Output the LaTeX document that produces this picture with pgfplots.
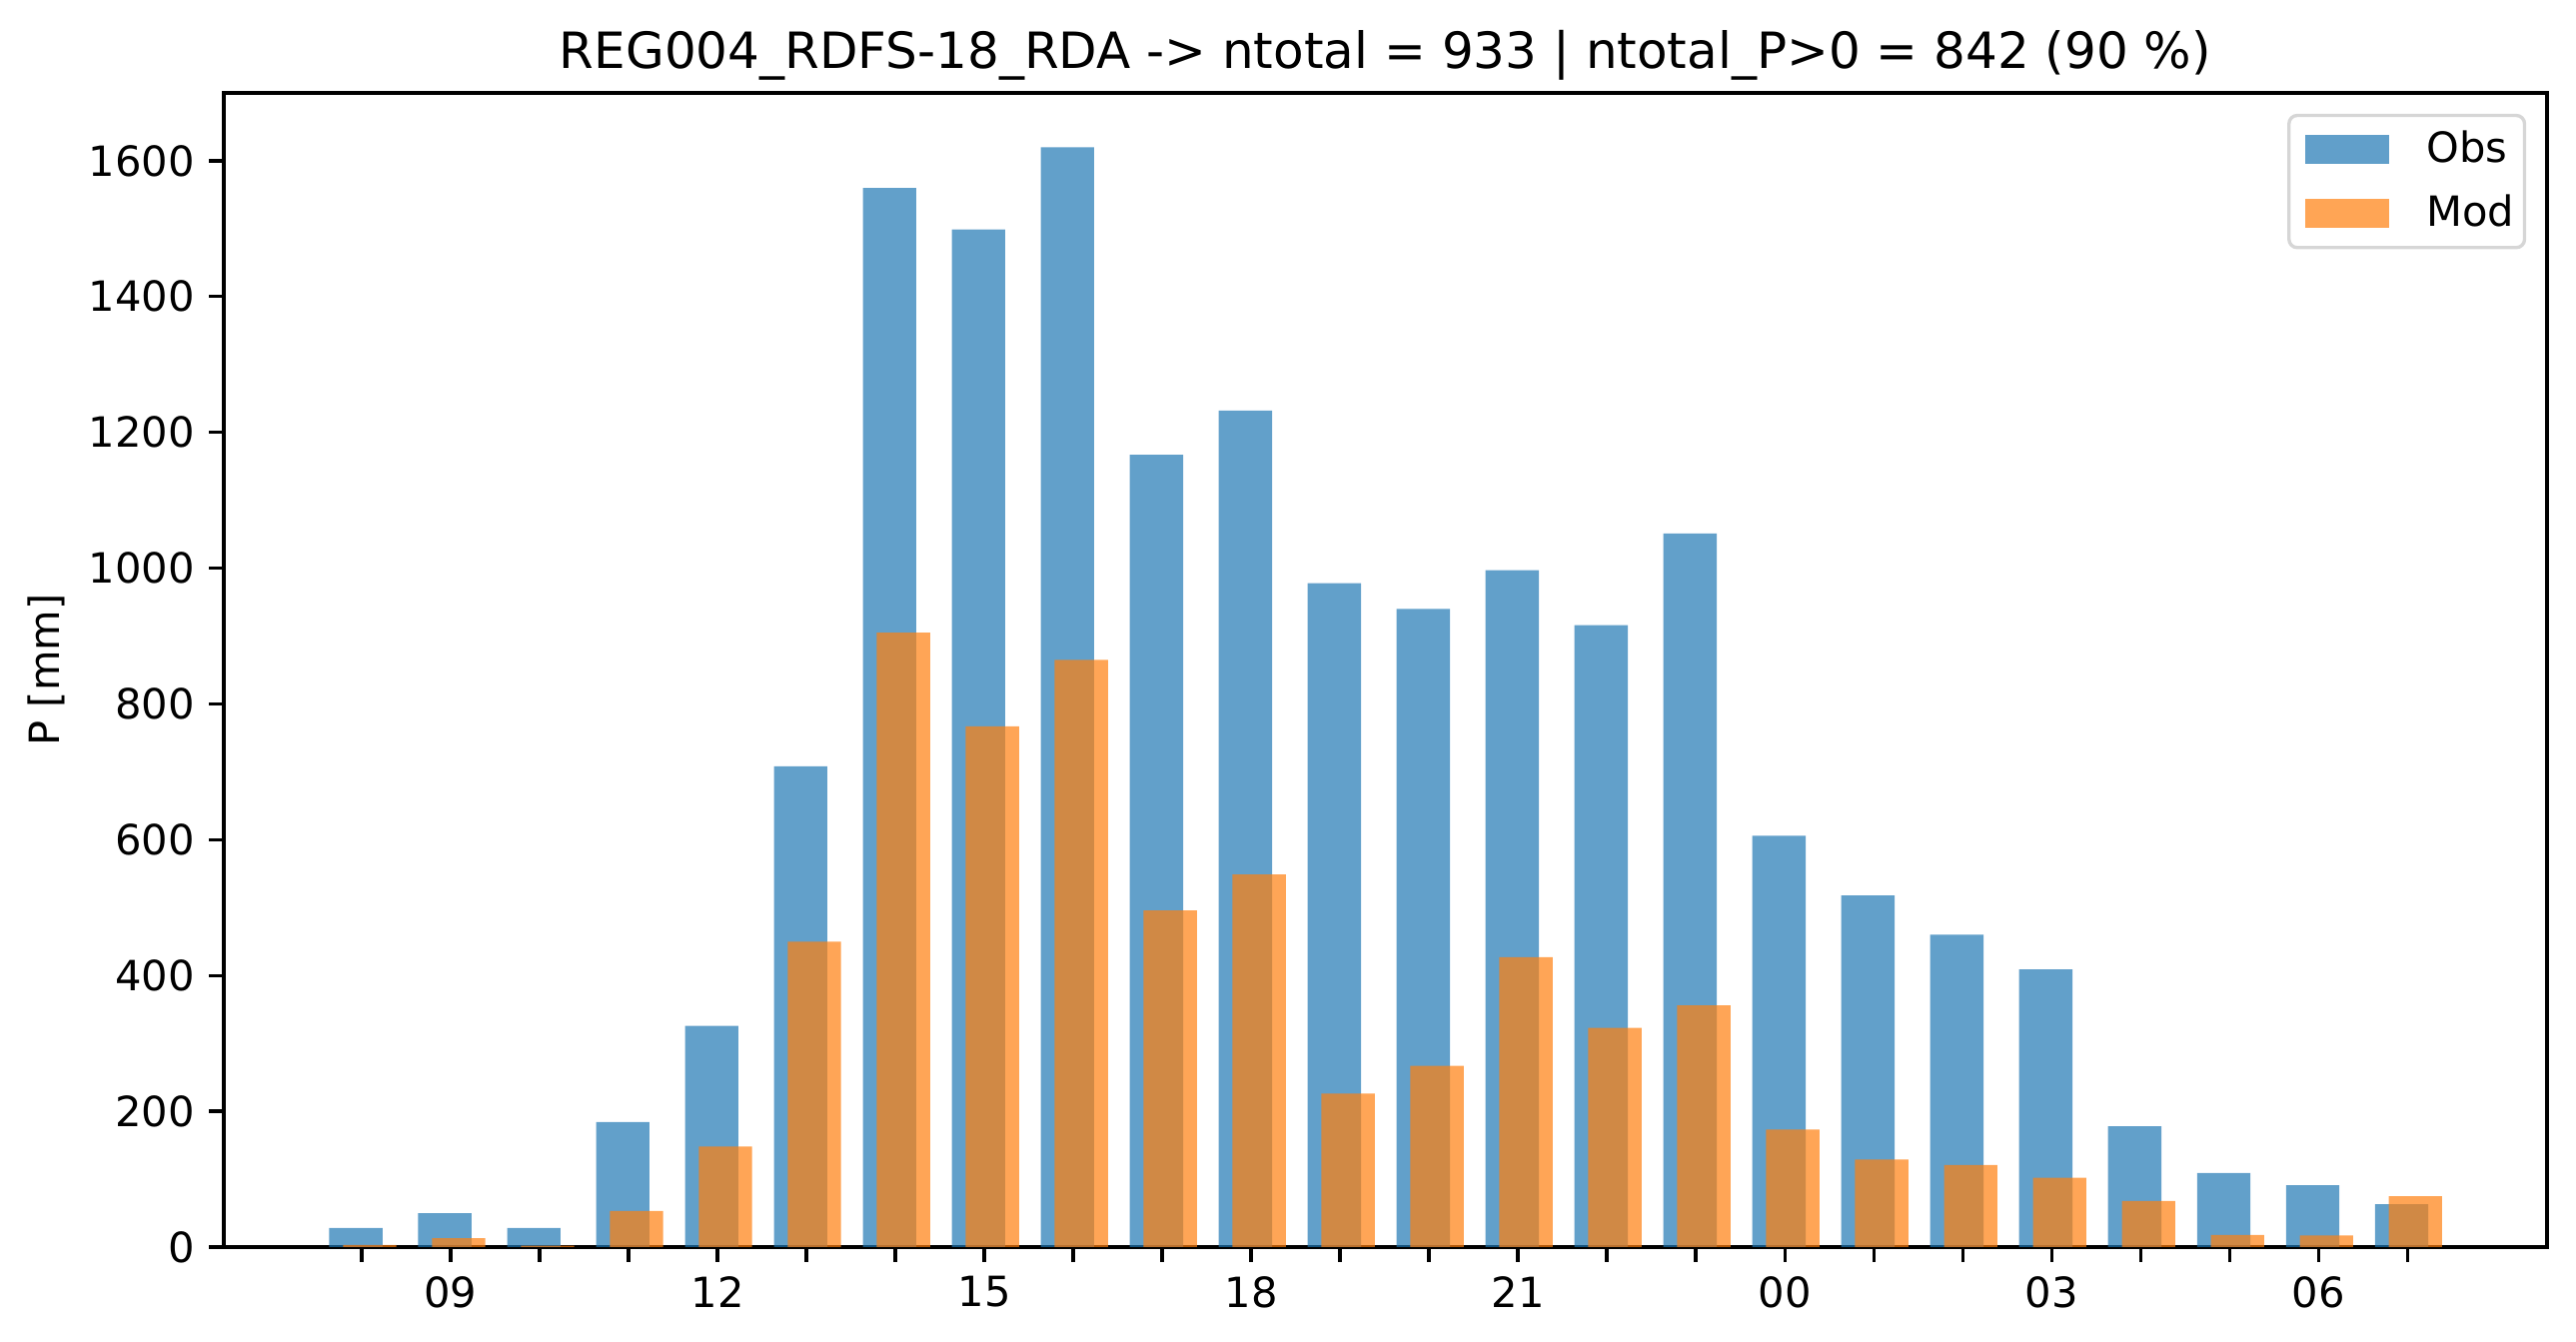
\documentclass[border=0pt]{standalone}
\usepackage{pgfplots}
\pgfplotsset{compat=1.18}
\usepackage{fontspec}
\setmainfont{DejaVu Sans}
\usetikzlibrary{calc}
\definecolor{tabblue}{HTML}{1F77B4}
\definecolor{taborange}{HTML}{FF7F0E}
\pgfplotstableread{
x obs mod
8 28 3
9 50 13
10 28 2
11 184 53
12 326 148
13 708 450
14 1560 905
15 1499 767
16 1620 865
17 1167 496
18 1232 549
19 978 226
20 940 267
21 997 427
22 916 323
23 1051 356
24 606 173
25 518 129
26 460 121
27 409 102
28 178 68
29 109 18
30 91 17
31 63 75
}\datatable
\begin{document}
\begin{tikzpicture}
\begin{axis}[
  scale only axis, width=558bp, height=277.2bp,
  xmin=6.45, xmax=32.57, ymin=0, ymax=1700,
  xtick={8,...,31},
  xticklabels={,09,,,12,,,15,,,18,,,21,,,00,,,03,,,06,},
  ytick={0,200,...,1600},
  scaled y ticks=false,
  /pgf/number format/1000 sep={},
  /pgf/number format/assume math mode=true,
  tick align=outside, xtick pos=bottom, ytick pos=left,
  major tick length=3.5bp,
  tick style={line width=0.8bp, black},
  axis line style={line width=0.8bp},
  ticklabel style={font=\fontsize{10bp}{12bp}\selectfont},
  title={REG004\_RDFS-18\_RDA -> ntotal = 933 | ntotal\_P>0 = 842 (90 \%)},
  title style={font=\fontsize{12bp}{14.4bp}\selectfont, at={(axis description cs:0.5,1)}, anchor=base, yshift=0bp, inner sep=0pt},
  ylabel={P [mm]},
  ylabel style={font=\fontsize{10bp}{12bp}\selectfont, at={(axis description cs:-0.0765,0.5)}, anchor=center, inner sep=0pt},
  legend style={at={(axis description cs:1,1)}, anchor=north east, xshift=-5bp, yshift=-5bp,
    draw=black!16, line width=0.8bp, rounded corners=2bp, fill=white,
    font=\fontsize{10bp}{12bp}\selectfont, inner xsep=4bp, inner ysep=1.6bp,
    row sep=2.4bp},
  legend cell align=left,
  /tikz/every even column/.append style={column sep=0bp},
]
\addplot[ybar, bar width=0.6, bar shift=-0.065, draw=none, fill=tabblue, fill opacity=0.7,
  legend image code/.code={\fill[sharp corners, draw=none, fill=tabblue, fill opacity=0.7] (0bp,-3.5bp) rectangle (20bp,3.5bp);}]
  table[x=x, y=obs] {\datatable};
\addlegendentry{\hspace*{7bp}Obs\hspace*{-3.5bp}}
\addplot[ybar, bar width=0.6, bar shift=0.09, draw=none, fill=taborange, fill opacity=0.7,
  legend image code/.code={\fill[sharp corners, draw=none, fill=taborange, fill opacity=0.7] (0bp,-3.5bp) rectangle (20bp,3.5bp);}]
  table[x=x, y=mod] {\datatable};
\addlegendentry{\hspace*{7bp}Mod\hspace*{-3.5bp}}
\end{axis}
\pgfresetboundingbox
\useasboundingbox ($(current axis.south west)+(-53.76bp,-22.8bp)$) rectangle ($(current axis.north east)+(6.96bp,22.32bp)$);
\end{tikzpicture}
\end{document}
